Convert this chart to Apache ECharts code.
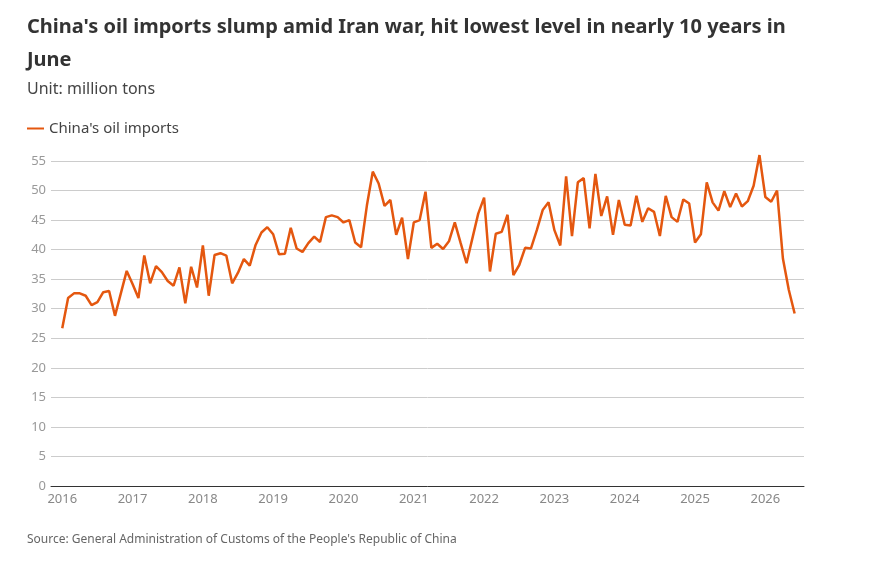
<!DOCTYPE html>
<html>
<head>
<meta charset="utf-8">
<script src="https://cdn.jsdelivr.net/npm/echarts@6/dist/echarts.min.js"></script>
<style>
  html, body { margin: 0; padding: 0; background: #fff; }
  #chart { width: 886px; height: 567px; }
</style>
</head>
<body>
<div id="chart"></div>
<script>
// monthly imports, Jan 2016 .. Jun 2026 (million tons)
const startYear = 2016
const imports = [
  26.7, 31.8, 32.6, 32.6, 32.2, 30.6, 31.1, 32.8, 33.0, 28.8, 32.6, 36.4,
  34.2, 31.8, 39.0, 34.3, 37.2, 36.2, 34.7, 33.9, 37.0, 30.9, 37.1, 33.6,
  40.7, 32.2, 39.1, 39.4, 39.0, 34.3, 36.1, 38.4, 37.3, 40.8, 42.9, 43.8,
  42.6, 39.2, 39.3, 43.7, 40.2, 39.6, 41.1, 42.2, 41.3, 45.5, 45.8, 45.5,
  44.6, 45.0, 41.2, 40.4, 47.5, 53.2, 51.2, 47.4, 48.4, 42.5, 45.4, 38.4,
  44.6, 45.0, 49.8, 40.3, 41.0, 40.1, 41.4, 44.6, 41.1, 37.7, 41.9, 46.1,
  48.8, 36.3, 42.7, 43.0, 45.9, 35.7, 37.4, 40.3, 40.2, 43.3, 46.7, 48.0,
  43.3, 40.7, 52.4, 42.3, 51.4, 52.1, 43.6, 52.8, 45.7, 49.0, 42.5, 48.4,
  44.2, 44.1, 49.1, 44.7, 47.0, 46.4, 42.3, 49.1, 45.5, 44.7, 48.5, 47.8,
  41.2, 42.6, 51.4, 48.0, 46.6, 49.9, 47.2, 49.5, 47.3, 48.2, 50.8, 56.0,
  48.9, 48.1, 50.0, 38.5, 33.2, 29.2
]
const yearTicks = [2016, 2017, 2018, 2019, 2020, 2021, 2022, 2023, 2024, 2025, 2026]

const points = imports.map((v, i) => [startYear + i / 12, v])

const chart = echarts.init(document.getElementById('chart'))
chart.setOption({
  animation: false,
  textStyle: { fontFamily: 'Noto Sans' },
  title: [
    {
      text: "China's oil imports slump amid Iran war, hit lowest level in nearly 10 years in\nJune",
      left: 27,
      top: 11,
      padding: 0,
      textStyle: { fontSize: 20, fontWeight: 'bold', color: '#333', lineHeight: 33, fontFamily: 'Noto Sans' }
    },
    {
      text: 'Unit: million tons',
      left: 27,
      top: 81,
      padding: 0,
      textStyle: { fontSize: 16, fontWeight: 'normal', color: '#444', fontFamily: 'Noto Sans' }
    },
    {
      text: "Source: General Administration of Customs of the People's Republic of China",
      left: 27,
      top: 534,
      padding: 0,
      textStyle: { fontSize: 12, fontWeight: 'normal', color: '#666', fontFamily: 'Noto Sans' }
    }
  ],
  legend: {
    left: 27,
    top: 121,
    padding: 0,
    icon: 'rect',
    itemWidth: 17,
    itemHeight: 2,
    itemGap: 5,
    textStyle: { fontSize: 15, color: '#444' },
    data: ["China's oil imports"]
  },
  grid: { left: 51, right: 82, top: 161, bottom: 81 },
  xAxis: {
    type: 'value',
    min: 2015.84,
    max: 2026.55,
    splitLine: { show: false },
    axisLine: { show: true, lineStyle: { color: '#333', width: 1 } },
    axisTick: { show: false },
    axisLabel: {
      customValues: yearTicks,
      color: '#888',
      fontSize: 13,
      margin: 7,
      formatter: v => String(Math.round(v))
    }
  },
  yAxis: {
    type: 'value',
    min: 0,
    max: 55,
    interval: 5,
    axisLine: { show: false },
    axisTick: { show: false },
    axisLabel: { color: '#999', fontSize: 13, margin: 5 },
    splitLine: { lineStyle: { color: '#ccc', width: 1 } }
  },
  series: [
    {
      name: "China's oil imports",
      type: 'line',
      data: points,
      clip: false,
      showSymbol: false,
      symbol: 'none',
      lineStyle: { color: '#e4570f', width: 2.5 },
      itemStyle: { color: '#e4570f' }
    }
  ]
})
</script>
</body>
</html>
